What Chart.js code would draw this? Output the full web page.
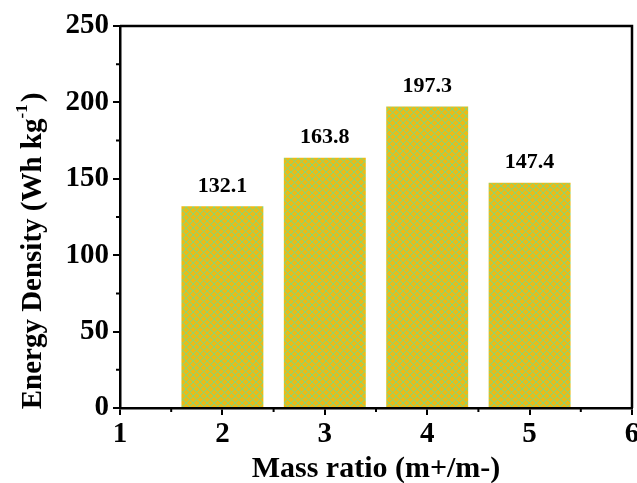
<!DOCTYPE html>
<html>
<head>
<meta charset="utf-8">
<script src="https://cdn.jsdelivr.net/npm/chart.js@4.4.0/dist/chart.umd.min.js"></script>
<style>
    html, body { margin: 0; padding: 0; background: #fff; }
</style>
</head>
<body>
<canvas id="myChart" width="637" height="483"></canvas>
<script>
// Energy density vs. mass ratio
var massRatio = [2, 3, 4, 5];
var energyDensity = [132.1, 163.8, 197.3, 147.4];
var xTickValues = [1, 2, 3, 4, 5, 6];
var yTickValues = [0, 50, 100, 150, 200, 250];
var xMinorTicks = [1.5, 2.5, 3.5, 4.5, 5.5];
var yMinorTicks = [25, 75, 125, 175, 225];

var FONT = '"Liberation Serif", "Times New Roman", serif';

// gold fill with a green diagonal cross-hatch, built pixel by pixel
function makeHatch() {
    var s = 7;
    var c = document.createElement('canvas');
    c.width = s;
    c.height = s;
    var g = c.getContext('2d');
    g.fillStyle = '#ecba16';
    g.fillRect(0, 0, s, s);
    for (var y = 0; y < s; y++) {
        for (var x = 0; x < s; x++) {
            if ((x + y) % s === 0 || (x - y + s) % s === 0) {
                g.fillStyle = '#8fd46c';
                g.fillRect(x, y, 1, 1);
            } else if ((x + y) % s === 1 || (x - y + s) % s === 1) {
                g.fillStyle = '#d2c130';
                g.fillRect(x, y, 1, 1);
            }
        }
    }
    return g.createPattern(c, 'repeat');
}

// top/right frame, minor ticks, value labels and axis titles
var decorPlugin = {
    id: 'decor',
    afterDraw: function(chart) {
        var ctx = chart.ctx;
        var area = chart.chartArea;
        var xs = chart.scales.x;
        var ys = chart.scales.y;

        ctx.save();
        ctx.strokeStyle = '#000';
        ctx.lineWidth = 2.5;
        ctx.beginPath();
        ctx.moveTo(area.left, area.top);
        ctx.lineTo(area.right, area.top);
        ctx.lineTo(area.right, area.bottom);
        ctx.stroke();

        ctx.lineWidth = 2;
        ctx.beginPath();
        xMinorTicks.forEach(function(v) {
            var px = xs.getPixelForValue(v);
            ctx.moveTo(px, area.bottom);
            ctx.lineTo(px, area.bottom + 4);
        });
        yMinorTicks.forEach(function(v) {
            var py = ys.getPixelForValue(v);
            ctx.moveTo(area.left, py);
            ctx.lineTo(area.left - 4, py);
        });
        ctx.stroke();

        // value above each bar
        ctx.fillStyle = '#000';
        ctx.font = 'bold 22px ' + FONT;
        ctx.textAlign = 'center';
        ctx.textBaseline = 'bottom';
        var meta = chart.getDatasetMeta(0);
        meta.data.forEach(function(bar, i) {
            ctx.fillText(energyDensity[i].toFixed(1), bar.x, bar.y - 9);
        });

        // x title
        ctx.font = 'bold 30px ' + FONT;
        ctx.textBaseline = 'alphabetic';
        ctx.fillText('Mass ratio (m+/m-)', (area.left + area.right) / 2, 477);

        // y title with superscript
        var main = 'Energy Density (Wh kg';
        var sup = '-1';
        var close = ')';
        ctx.font = 'bold 29px ' + FONT;
        var wMain = ctx.measureText(main).width;
        var wClose = ctx.measureText(close).width;
        ctx.font = 'bold 17px ' + FONT;
        var wSup = ctx.measureText(sup).width;
        var total = wMain + wSup + 2 + wClose;
        ctx.translate(41, 251);
        ctx.rotate(-Math.PI / 2);
        ctx.textAlign = 'left';
        var x0 = -total / 2;
        ctx.font = 'bold 29px ' + FONT;
        ctx.fillText(main, x0, 0);
        ctx.font = 'bold 17px ' + FONT;
        ctx.fillText(sup, x0 + wMain, -14);
        ctx.font = 'bold 29px ' + FONT;
        ctx.fillText(close, x0 + wMain + wSup + 2, 0);
        ctx.restore();
    }
};

var ctx = document.getElementById('myChart').getContext('2d');
var chart = new Chart(ctx, {
    type: 'bar',
    data: {
        datasets: [{
            data: massRatio.map(function(m, i) { return { x: m, y: energyDensity[i] }; }),
            backgroundColor: makeHatch(),
            borderWidth: 0,
            barPercentage: 0.8,
            categoryPercentage: 1
        }]
    },
    options: {
        responsive: false,
        animation: false,
        layout: { padding: { top: 26, right: 5, left: 0, bottom: 0 } },
        plugins: {
            legend: { display: false },
            tooltip: { enabled: false }
        },
        scales: {
            x: {
                type: 'linear',
                min: 1,
                max: 6,
                offset: false,
                afterBuildTicks: function(scale) {
                    scale.ticks = xTickValues.map(function(v) { return { value: v }; });
                },
                afterFit: function(scale) {
                    scale.height = 75;
                    scale.paddingLeft = 0;
                    scale.paddingRight = 0;
                },
                grid: {
                    offset: false,
                    drawOnChartArea: false,
                    tickLength: 7,
                    lineWidth: 2,
                    color: '#000'
                },
                border: { color: '#000', width: 2.5 },
                ticks: {
                    color: '#000',
                    padding: 2,
                    maxRotation: 0,
                    font: { family: FONT, size: 29, weight: 'bold' }
                }
            },
            y: {
                min: 0,
                max: 250,
                afterBuildTicks: function(scale) {
                    scale.ticks = yTickValues.map(function(v) { return { value: v }; });
                },
                afterFit: function(scale) {
                    scale.width = 120;
                    scale.paddingTop = 0;
                    scale.paddingBottom = 0;
                },
                grid: {
                    drawOnChartArea: false,
                    tickLength: 7,
                    lineWidth: 2,
                    color: '#000'
                },
                border: { color: '#000', width: 2.5 },
                ticks: {
                    color: '#000',
                    padding: 4,
                    font: { family: FONT, size: 29, weight: 'bold' }
                }
            }
        }
    },
    plugins: [decorPlugin]
});
</script>
</body>
</html>
